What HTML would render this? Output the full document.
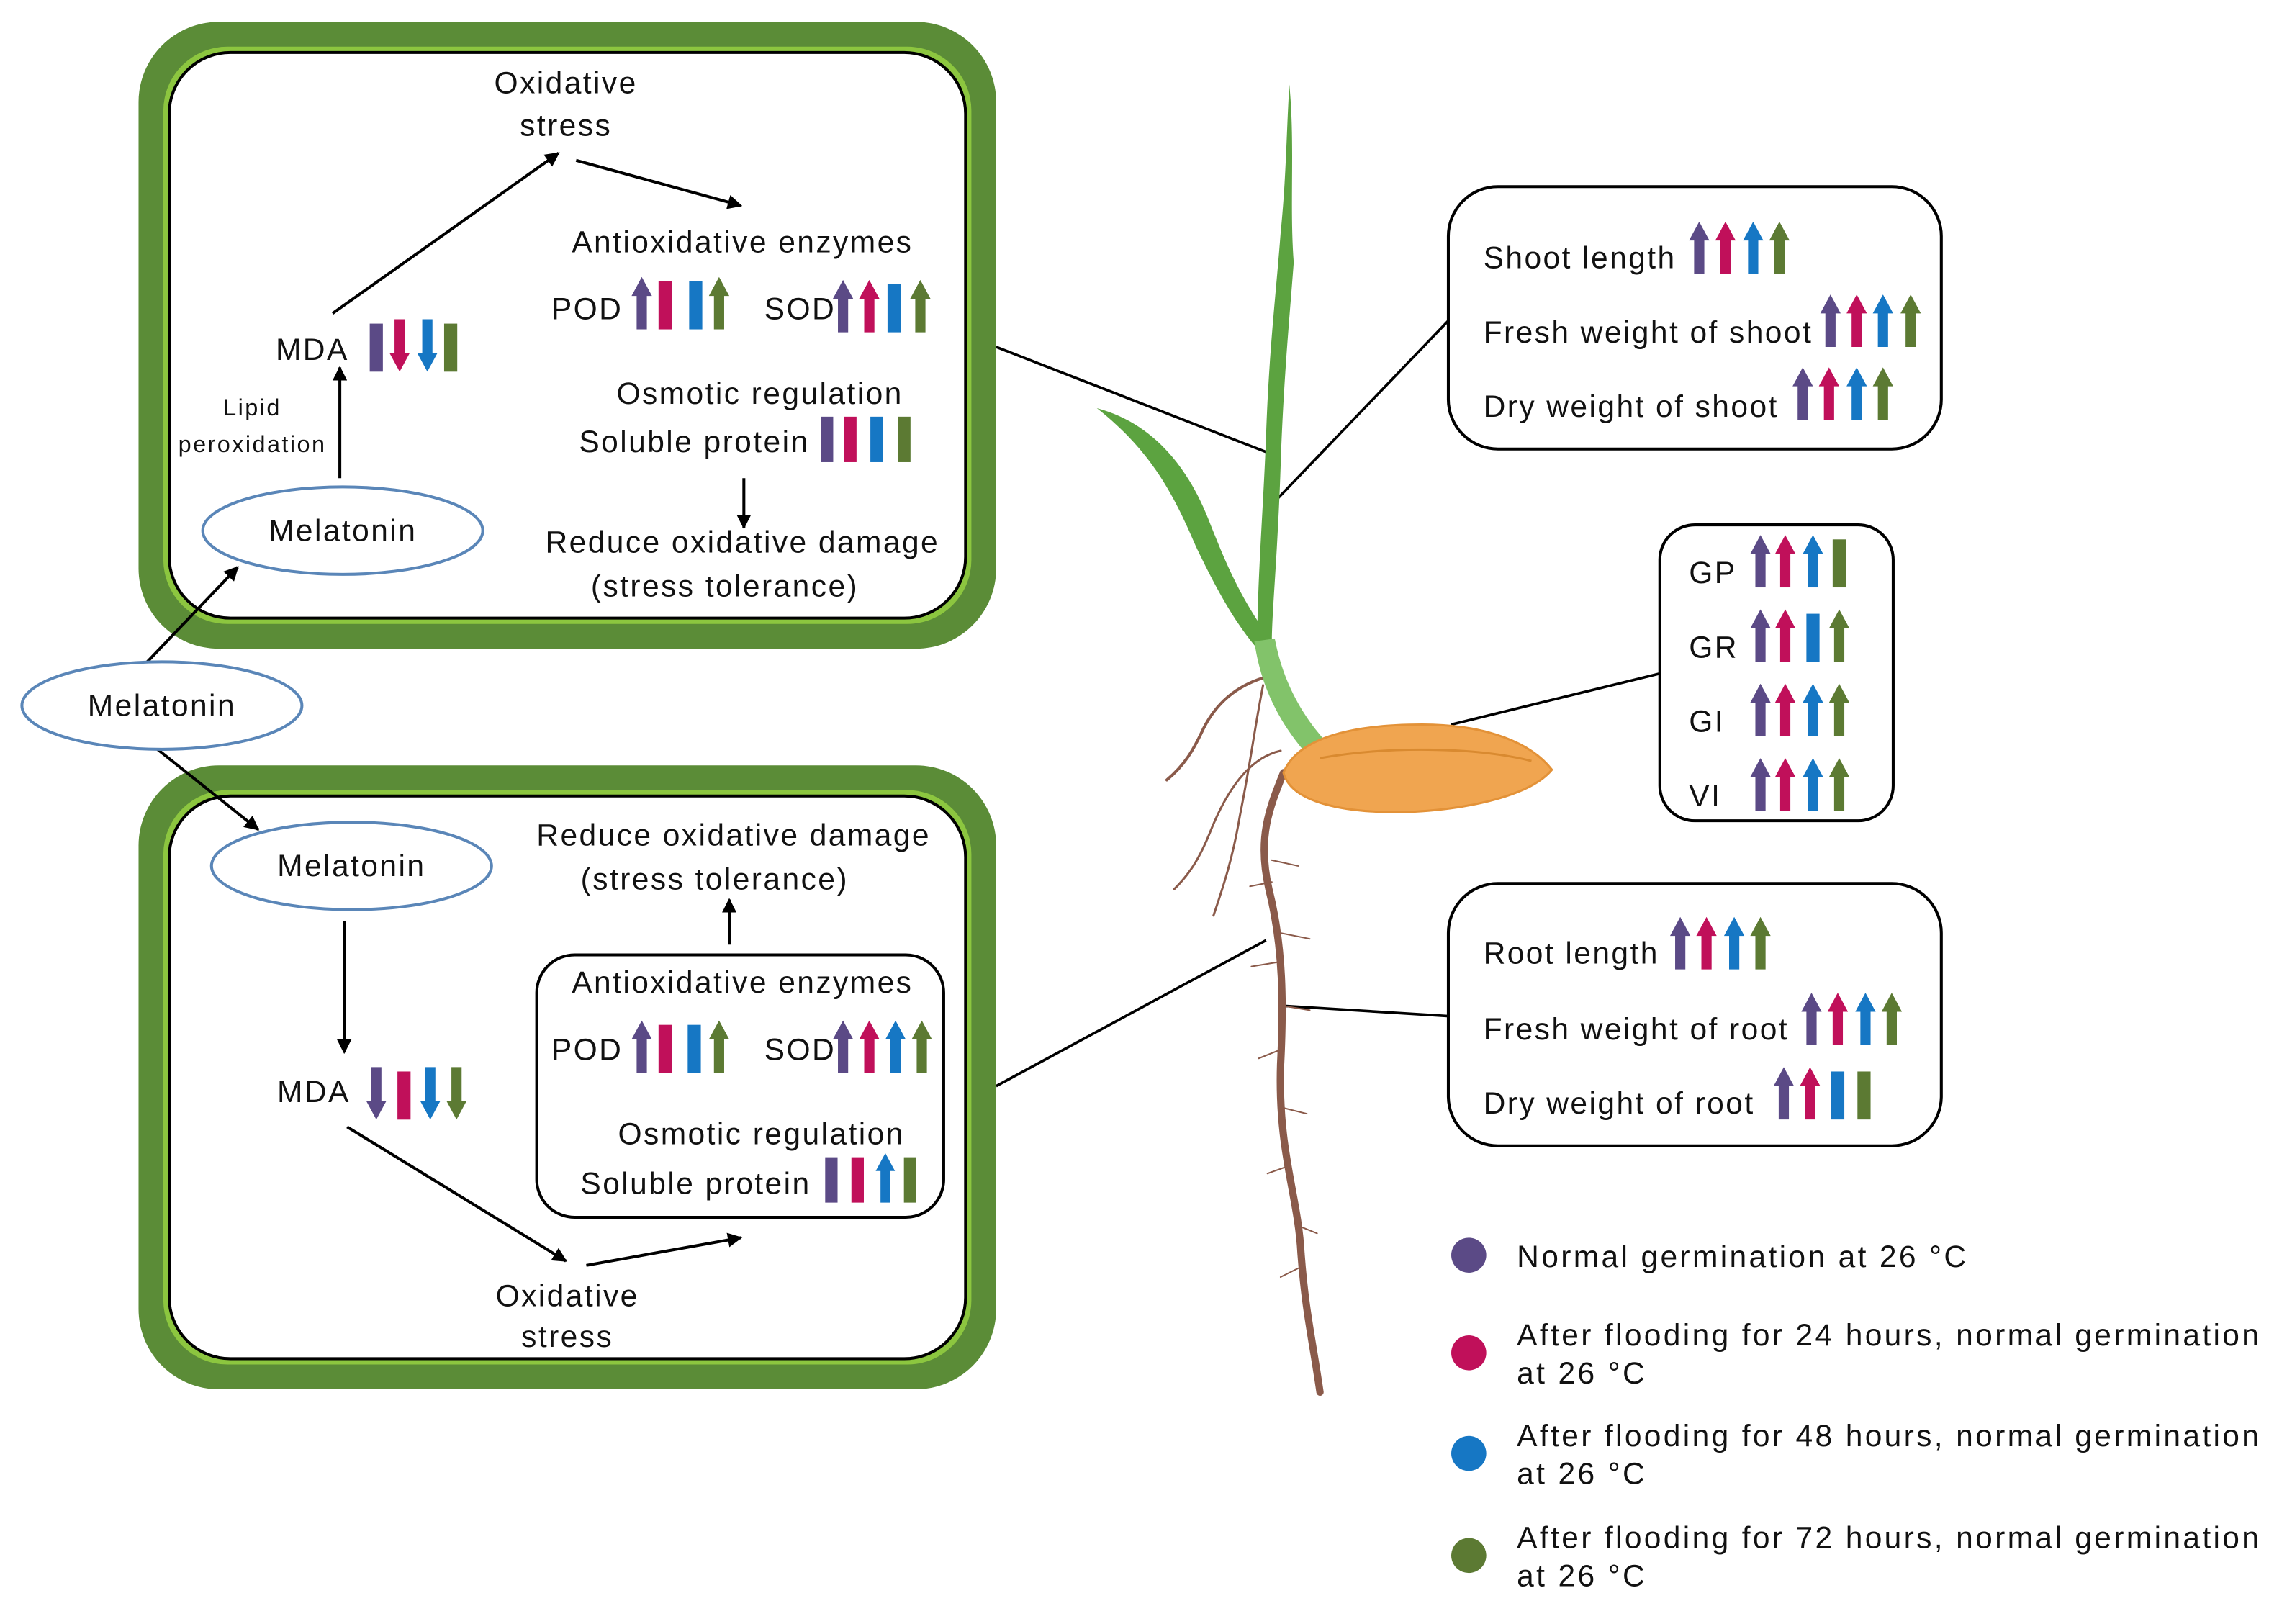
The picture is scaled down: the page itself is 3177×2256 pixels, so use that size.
<!DOCTYPE html>
<html><head><meta charset="utf-8"><style>
html,body{margin:0;padding:0;background:#fff}
svg{display:block}
text{font-family:"Liberation Sans",sans-serif;fill:#111;letter-spacing:1.2px}
.lg{letter-spacing:1.65px}
</style></head><body>
<svg width="3177" height="2256" viewBox="0 0 1568 1114" preserveAspectRatio="none" xmlns="http://www.w3.org/2000/svg">
<defs>
<symbol id="u" viewBox="0 0 14 36"><polygon points="7,0 14,13 10.5,13 10.5,36 3.5,36 3.5,13 0,13"/></symbol>
<symbol id="d" viewBox="0 0 14 36"><polygon points="7,36 14,23 10.5,23 10.5,0 3.5,0 3.5,23 0,23"/></symbol>
<symbol id="b" viewBox="0 0 14 36"><rect x="2.5" y="3" width="9" height="33"/></symbol>
<marker id="ah" markerWidth="10" markerHeight="10" refX="9" refY="5" orient="auto" markerUnits="userSpaceOnUse"><polygon points="0,0 10,5 0,10" fill="#000"/></marker>
</defs>
<g font-size="21">
<rect x="95" y="15" width="588" height="430" rx="55" fill="#5b8c37"/>
<rect x="112" y="32" width="554" height="396" rx="44" fill="#8cc63f"/>
<rect x="116" y="36" width="546" height="388" rx="42" fill="#fff" stroke="#000" stroke-width="2"/>
<rect x="95" y="525" width="588" height="428" rx="55" fill="#5b8c37"/>
<rect x="112" y="542" width="554" height="394" rx="44" fill="#8cc63f"/>
<rect x="116" y="546" width="546" height="386" rx="42" fill="#fff" stroke="#000" stroke-width="2"/>

<g stroke="#000" stroke-width="2" fill="none" marker-end="url(#ah)">
<line x1="228" y1="215" x2="383" y2="105"/>
<line x1="395" y1="110" x2="508" y2="141"/>
<line x1="233" y1="328" x2="233" y2="252"/>
<line x1="510" y1="328" x2="510" y2="362"/>
<line x1="100" y1="455" x2="163" y2="389"/>
<line x1="108" y1="514" x2="177" y2="569"/>
<line x1="236" y1="632" x2="236" y2="722"/>
<line x1="238" y1="773" x2="388" y2="865"/>
<line x1="402" y1="868" x2="508" y2="849"/>
<line x1="500" y1="648" x2="500" y2="617"/>
</g>
<g stroke="#000" stroke-width="1.8">
<line x1="683" y1="238" x2="868" y2="310"/>
<line x1="683" y1="745" x2="868" y2="645"/>
<line x1="875" y1="343" x2="993" y2="220"/>
<line x1="995" y1="497" x2="1138" y2="462"/>
<line x1="880" y1="690" x2="993" y2="697"/>
</g>

<g text-anchor="middle">
<text x="388" y="64">Oxidative</text><text x="388" y="93">stress</text>
<text x="509" y="173">Antioxidative enzymes</text>
<text x="521" y="277">Osmotic regulation</text>
<text x="509" y="379">Reduce oxidative damage</text>
<text x="497" y="409">(stress tolerance)</text>
<text x="173" y="285" font-size="16">Lipid</text><text x="173" y="310" font-size="16">peroxidation</text>
<text x="503" y="580">Reduce oxidative damage</text>
<text x="490" y="610">(stress tolerance)</text>
<text x="509" y="681">Antioxidative enzymes</text>
<text x="522" y="785">Osmotic regulation</text>
<text x="389" y="896">Oxidative</text><text x="389" y="924">stress</text>
</g>
<text x="378" y="219">POD</text><text x="524" y="219">SOD</text>
<text x="189" y="247">MDA</text>
<text x="397" y="310">Soluble protein</text>
<text x="190" y="756">MDA</text>
<text x="378" y="727">POD</text><text x="524" y="727">SOD</text>
<text x="398" y="819">Soluble protein</text>

<ellipse cx="235" cy="364" rx="96" ry="30" fill="#fff" stroke="#5a86b8" stroke-width="2"/>
<text x="235" y="371" text-anchor="middle">Melatonin</text>
<ellipse cx="111" cy="484" rx="96" ry="30" fill="#fff" stroke="#5a86b8" stroke-width="2"/>
<text x="111" y="491" text-anchor="middle">Melatonin</text>
<ellipse cx="241" cy="594" rx="96" ry="30" fill="#fff" stroke="#5a86b8" stroke-width="2"/>
<text x="241" y="601" text-anchor="middle">Melatonin</text>

<rect x="368" y="655" width="279" height="180" rx="26" fill="none" stroke="#000" stroke-width="2"/>

<use href="#u" x="433" y="190" width="14" height="36" fill="#5b4a86"/>
<use href="#b" x="449" y="190" width="14" height="36" fill="#c0105a"/>
<use href="#b" x="470" y="190" width="14" height="36" fill="#1677c4"/>
<use href="#u" x="486" y="190" width="14" height="36" fill="#5c7a33"/>
<use href="#u" x="571" y="192" width="14" height="36" fill="#5b4a86"/>
<use href="#u" x="589" y="192" width="14" height="36" fill="#c0105a"/>
<use href="#b" x="606" y="192" width="14" height="36" fill="#1677c4"/>
<use href="#u" x="624" y="192" width="14" height="36" fill="#5c7a33"/>
<use href="#b" x="251" y="219" width="14" height="36" fill="#5b4a86"/>
<use href="#d" x="267" y="219" width="14" height="36" fill="#c0105a"/>
<use href="#d" x="286" y="219" width="14" height="36" fill="#1677c4"/>
<use href="#b" x="302" y="219" width="14" height="36" fill="#5c7a33"/>
<use href="#b" x="560" y="283" width="14" height="34" fill="#5b4a86"/>
<use href="#b" x="576" y="283" width="14" height="34" fill="#c0105a"/>
<use href="#b" x="594" y="283" width="14" height="34" fill="#1677c4"/>
<use href="#b" x="613" y="283" width="14" height="34" fill="#5c7a33"/>
<use href="#u" x="433" y="700" width="14" height="36" fill="#5b4a86"/>
<use href="#b" x="449" y="700" width="14" height="36" fill="#c0105a"/>
<use href="#b" x="469" y="700" width="14" height="36" fill="#1677c4"/>
<use href="#u" x="486" y="700" width="14" height="36" fill="#5c7a33"/>
<use href="#u" x="571" y="700" width="14" height="36" fill="#5b4a86"/>
<use href="#u" x="589" y="700" width="14" height="36" fill="#c0105a"/>
<use href="#u" x="607" y="700" width="14" height="36" fill="#1677c4"/>
<use href="#u" x="625" y="700" width="14" height="36" fill="#5c7a33"/>
<use href="#d" x="251" y="731" width="14" height="38" fill="#5b4a86"/>
<use href="#b" x="270" y="731" width="14" height="38" fill="#c0105a"/>
<use href="#d" x="288" y="731" width="14" height="38" fill="#1677c4"/>
<use href="#d" x="306" y="731" width="14" height="38" fill="#5c7a33"/>
<use href="#b" x="563" y="791" width="14" height="34" fill="#5b4a86"/>
<use href="#b" x="581" y="791" width="14" height="34" fill="#c0105a"/>
<use href="#u" x="600" y="791" width="14" height="34" fill="#1677c4"/>
<use href="#b" x="617" y="791" width="14" height="34" fill="#5c7a33"/>

<!-- plant -->
<g fill="none" stroke-linecap="round">
<path d="M866,465 C850,470 835,480 825,500 C818,515 812,525 800,535" stroke="#8a5a4a" stroke-width="2"/>
<path d="M878,515 C855,520 840,545 830,570 C822,590 815,600 805,610" stroke="#8a5a4a" stroke-width="1.5"/>
<path d="M866,470 C860,500 858,520 850,560 C845,590 838,610 832,628" stroke="#8a5a4a" stroke-width="1.5"/>
<path d="M880,530 C870,555 862,575 870,610 C880,650 880,690 878,730 C876,790 890,820 892,860 C895,900 900,920 905,955" stroke="#8a5a4a" stroke-width="5"/>
<path d="M872,590 l18,4 M872,605 l-15,3 M878,640 l20,4 M876,660 l-18,3 M880,690 l18,3 M878,720 l-15,6 M880,760 l16,4 M883,800 l-14,5 M888,840 l15,6 M890,870 l-12,6" stroke="#8a5a4a" stroke-width="1"/>
</g>
<path d="M884,58 C888,100 884,140 887,180 C884,220 880,260 878,320 C876,380 872,420 872,440 L862,440 C862,400 866,350 868,300 C870,240 875,200 878,160 C882,120 882,90 884,58 Z" fill="#5ca340"/>
<path d="M752,280 C790,290 815,320 830,360 C840,385 850,410 872,440 L862,445 C845,425 832,400 820,375 C805,340 790,310 752,280 Z" fill="#5ca340"/>
<path d="M860,440 L874,438 C880,470 895,495 915,515 L900,522 C880,500 865,475 860,440 Z" fill="#82c36a"/>
<path d="M880,530 C890,505 930,497 975,497 C1020,497 1050,510 1064,528 C1050,545 1010,555 965,557 C920,558 885,550 880,530 Z" fill="#f0a550" stroke="#e39238" stroke-width="1.5"/>
<path d="M905,520 C950,512 1010,512 1050,522" stroke="#d98a30" stroke-width="1.5" fill="none"/>

<rect x="993" y="128" width="338" height="180" rx="34" fill="#fff" stroke="#000" stroke-width="2"/>
<text x="1017" y="184">Shoot length</text>
<text x="1017" y="235">Fresh weight of shoot</text>
<text x="1017" y="286">Dry weight of shoot</text>
<use href="#u" x="1158" y="152" width="14" height="36" fill="#5b4a86"/>
<use href="#u" x="1176" y="152" width="14" height="36" fill="#c0105a"/>
<use href="#u" x="1195" y="152" width="14" height="36" fill="#1677c4"/>
<use href="#u" x="1213" y="152" width="14" height="36" fill="#5c7a33"/>
<use href="#u" x="1248" y="202" width="14" height="36" fill="#5b4a86"/>
<use href="#u" x="1266" y="202" width="14" height="36" fill="#c0105a"/>
<use href="#u" x="1284" y="202" width="14" height="36" fill="#1677c4"/>
<use href="#u" x="1303" y="202" width="14" height="36" fill="#5c7a33"/>
<use href="#u" x="1229" y="252" width="14" height="36" fill="#5b4a86"/>
<use href="#u" x="1247" y="252" width="14" height="36" fill="#c0105a"/>
<use href="#u" x="1266" y="252" width="14" height="36" fill="#1677c4"/>
<use href="#u" x="1284" y="252" width="14" height="36" fill="#5c7a33"/>

<rect x="1138" y="360" width="160" height="203" rx="24" fill="#fff" stroke="#000" stroke-width="2"/>
<text x="1158" y="400">GP</text><text x="1158" y="451">GR</text><text x="1158" y="502">GI</text><text x="1158" y="553">VI</text>
<use href="#u" x="1200" y="367" width="14" height="36" fill="#5b4a86"/>
<use href="#u" x="1217" y="367" width="14" height="36" fill="#c0105a"/>
<use href="#u" x="1236" y="367" width="14" height="36" fill="#1677c4"/>
<use href="#b" x="1254" y="367" width="14" height="36" fill="#5c7a33"/>
<use href="#u" x="1200" y="418" width="14" height="36" fill="#5b4a86"/>
<use href="#u" x="1217" y="418" width="14" height="36" fill="#c0105a"/>
<use href="#b" x="1236" y="418" width="14" height="36" fill="#1677c4"/>
<use href="#u" x="1254" y="418" width="14" height="36" fill="#5c7a33"/>
<use href="#u" x="1200" y="469" width="14" height="36" fill="#5b4a86"/>
<use href="#u" x="1217" y="469" width="14" height="36" fill="#c0105a"/>
<use href="#u" x="1236" y="469" width="14" height="36" fill="#1677c4"/>
<use href="#u" x="1254" y="469" width="14" height="36" fill="#5c7a33"/>
<use href="#u" x="1200" y="520" width="14" height="36" fill="#5b4a86"/>
<use href="#u" x="1217" y="520" width="14" height="36" fill="#c0105a"/>
<use href="#u" x="1236" y="520" width="14" height="36" fill="#1677c4"/>
<use href="#u" x="1254" y="520" width="14" height="36" fill="#5c7a33"/>

<rect x="993" y="606" width="338" height="180" rx="34" fill="#fff" stroke="#000" stroke-width="2"/>
<text x="1017" y="661">Root length</text>
<text x="1017" y="713">Fresh weight of root</text>
<text x="1017" y="764">Dry weight of root</text>
<use href="#u" x="1145" y="629" width="14" height="36" fill="#5b4a86"/>
<use href="#u" x="1163" y="629" width="14" height="36" fill="#c0105a"/>
<use href="#u" x="1182" y="629" width="14" height="36" fill="#1677c4"/>
<use href="#u" x="1200" y="629" width="14" height="36" fill="#5c7a33"/>
<use href="#u" x="1235" y="681" width="14" height="36" fill="#5b4a86"/>
<use href="#u" x="1253" y="681" width="14" height="36" fill="#c0105a"/>
<use href="#u" x="1272" y="681" width="14" height="36" fill="#1677c4"/>
<use href="#u" x="1290" y="681" width="14" height="36" fill="#5c7a33"/>
<use href="#u" x="1216" y="732" width="14" height="36" fill="#5b4a86"/>
<use href="#u" x="1234" y="732" width="14" height="36" fill="#c0105a"/>
<use href="#b" x="1253" y="732" width="14" height="36" fill="#1677c4"/>
<use href="#b" x="1271" y="732" width="14" height="36" fill="#5c7a33"/>

<circle cx="1007" cy="861" r="12" fill="#5b4a86"/>
<circle cx="1007" cy="928" r="12" fill="#c0105a"/>
<circle cx="1007" cy="997" r="12" fill="#1677c4"/>
<circle cx="1007" cy="1067" r="12" fill="#5c7a33"/>
<text class="lg" x="1040" y="869">Normal germination at 26 °C</text>
<text class="lg" x="1040" y="923">After flooding for 24 hours, normal germination</text><text class="lg" x="1040" y="949">at 26 °C</text>
<text class="lg" x="1040" y="992">After flooding for 48 hours, normal germination</text><text class="lg" x="1040" y="1018">at 26 °C</text>
<text class="lg" x="1040" y="1062">After flooding for 72 hours, normal germination</text><text class="lg" x="1040" y="1088">at 26 °C</text>
</g>
</svg>
</body></html>
